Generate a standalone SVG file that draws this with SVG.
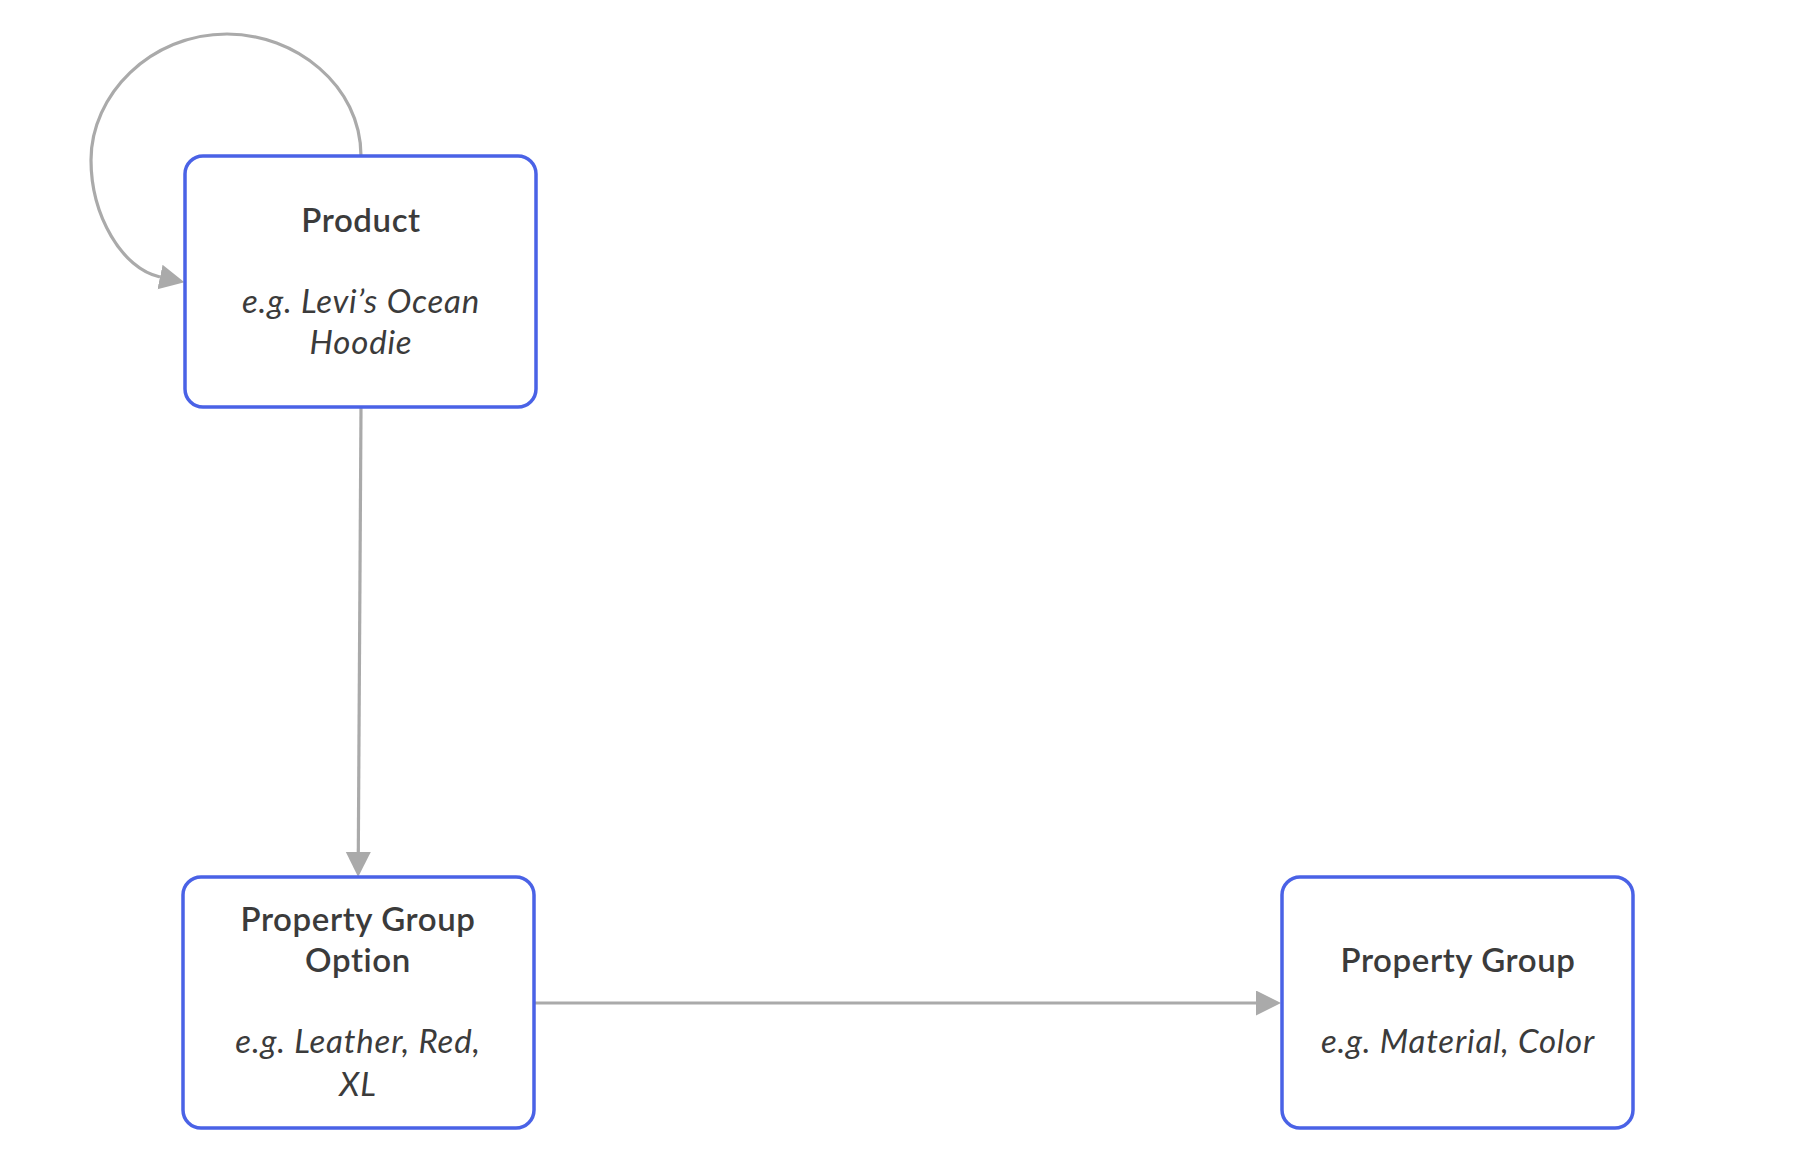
<svg xmlns="http://www.w3.org/2000/svg" width="1814" height="1168" viewBox="0 0 1814 1168">
<style>
.box{fill:#ffffff;stroke:#4a62e6;stroke-width:3.5}
.t{font-family:Lato,"Open Sans",sans-serif;font-size:33px;font-weight:600;letter-spacing:0.6px;fill:#3b3b3b;text-anchor:middle}
.s{font-family:Lato,"Open Sans",sans-serif;font-size:33px;font-style:italic;letter-spacing:0.8px;fill:#3b3b3b;text-anchor:middle}
.edge{fill:none;stroke:#aaaaaa;stroke-width:3.2}
</style>
<defs>
<marker id="arr" markerUnits="userSpaceOnUse" markerWidth="26" markerHeight="26" refX="0" refY="12.5" orient="auto" viewBox="0 0 26 26">
<path d="M0,0 L25,12.5 L0,25 z" fill="#aaaaaa"/>
</marker>
</defs>
<g id="connectors">
<path class="edge" d="M361,156 C361,85 295,34 227,34 C150,34 91,95 91,160 C91,215 122,269 160,277" marker-end="url(#arr)"/>
<path class="edge" d="M361,408 L358.3,852" marker-end="url(#arr)"/>
<path class="edge" d="M534,1003 L1256,1003" marker-end="url(#arr)"/>
</g>
<g id="product">
<rect class="box" x="185" y="156" width="351" height="251" rx="18"/>
<text class="t" x="361" y="232">Product</text>
<text class="s" x="361" y="313">e.g. Levi’s Ocean</text>
<text class="s" x="361" y="354">Hoodie</text>
</g>
<g id="property-group-option">
<rect class="box" x="183" y="877" width="351" height="251" rx="18"/>
<text class="t" x="358" y="931">Property Group</text>
<text class="t" x="358" y="972">Option</text>
<text class="s" x="358" y="1053">e.g. Leather, Red,</text>
<text class="s" x="358" y="1096">XL</text>
</g>
<g id="property-group">
<rect class="box" x="1282" y="877" width="351" height="251" rx="18"/>
<text class="t" x="1458" y="972">Property Group</text>
<text class="s" x="1458" y="1053">e.g. Material, Color</text>
</g>
</svg>
